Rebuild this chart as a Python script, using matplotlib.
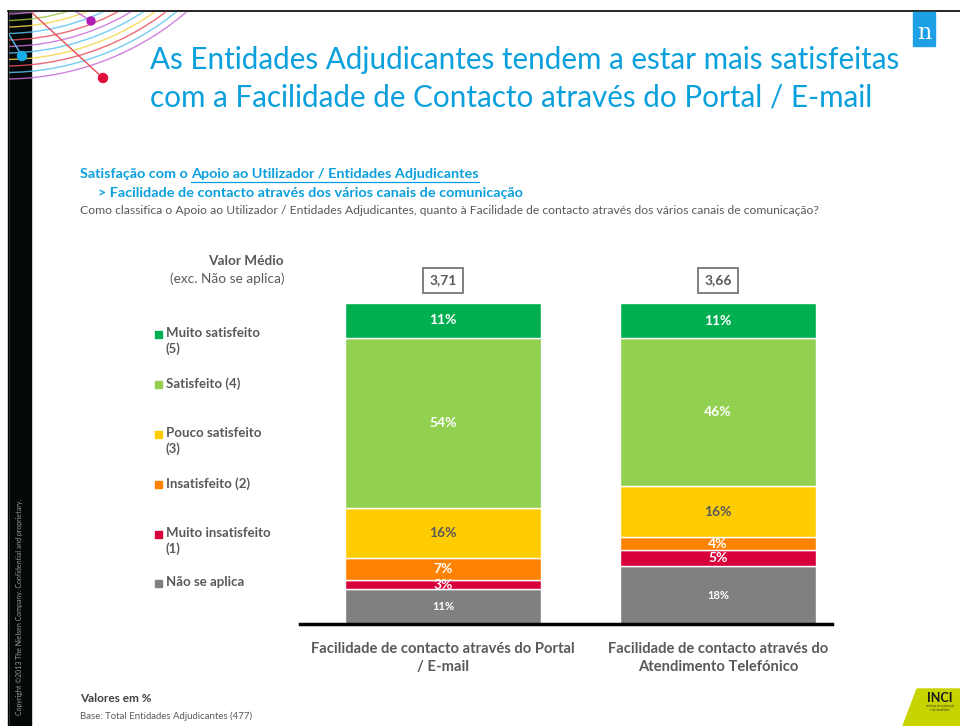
import numpy as np
import matplotlib
matplotlib.use("Agg")
import matplotlib.pyplot as plt
from matplotlib.patches import Rectangle, Polygon, Arc, Circle

plt.rcParams['font.family'] = ['Lato', 'DejaVu Sans']

# data
categories = ["Facilidade de contacto através do Portal\n/ E-mail",
              "Facilidade de contacto através do\nAtendimento Telefónico"]
levels = ["Não se aplica", "Muito insatisfeito (1)", "Insatisfeito (2)",
          "Pouco satisfeito (3)", "Satisfeito (4)", "Muito satisfeito (5)"]
portal = [11, 3, 7, 16, 54, 11]
telefone = [18, 5, 4, 16, 46, 11]
means = ["3,71", "3,66"]
legend_labels = ["Muito satisfeito\n(5)", "Satisfeito (4)", "Pouco satisfeito\n(3)",
                 "Insatisfeito (2)", "Muito insatisfeito\n(1)", "Não se aplica"]

colors = ["#808080", "#D8003A", "#FF8200", "#FFCC00", "#92D050", "#00B050"]
label_colors = ["white", "white", "white", "#595959", "white", "white"]
legend_colors = colors[::-1]

W, H = 960, 726
fig = plt.figure(figsize=(9.6, 7.26), dpi=100)

# decoration layer in pixel coordinates
deco = fig.add_axes([0, 0, 1, 1])
deco.set_xlim(0, W)
deco.set_ylim(H, 0)
deco.axis("off")
deco.add_patch(Rectangle((8, 11), 23, H - 11, color="#050808", zorder=1))
deco.plot([8, W], [11, 11], color="black", lw=1.2, zorder=3)
deco.plot([8, 8], [11, H], color="black", lw=1.0, zorder=3)
arc_cols = ["#C86DD7", "#59C3F0", "#E8505B", "#F5D547", "#59C3F0", "#C86DD7",
            "#E8505B", "#59C3F0", "#F5D547", "#9BC53D", "#C86DD7"]
for i, c in enumerate(arc_cols):
    r = 279 - i * 6.5
    deco.add_patch(Arc((5, -200), 2 * r, 2 * r, theta1=20, theta2=160,
                       color=c, lw=1.0, alpha=0.85, zorder=2))
deco.add_patch(Rectangle((0, 0), W, 11, color="white", zorder=2.5))
deco.add_patch(Rectangle((0, 0), 8, H, color="white", zorder=2.5))
deco.plot([30, 103], [11, 78], color="#E8505B", lw=1, zorder=2)
deco.plot([75, 91], [11, 21], color="#C86DD7", lw=1, zorder=2)
deco.plot([8, 22], [33, 56], color="#59C3F0", lw=1, zorder=2)
deco.add_patch(Circle((91, 21), 4, color="#B01CB5", zorder=4))
deco.add_patch(Circle((22, 56), 4.5, color="#13AEEA", zorder=4))
deco.add_patch(Circle((103, 78), 4.5, color="#E0103A", zorder=4))
deco.text(20, 607, "Copyright ©2013 The Nielsen Company. Confidential and proprietary.",
          rotation=90, ha="center", va="center", fontsize=5, color="#9A9A9A", zorder=4)

# nielsen logo
deco.add_patch(Rectangle((913, 12), 22, 34, color="#1EA0E6", zorder=4))
deco.text(924, 33, "n", ha="center", va="center", fontsize=16, color="white",
          family="DejaVu Serif", zorder=5)

# inci logo
deco.add_patch(Polygon([[903, 726], [917, 689], [960, 689], [960, 726]],
                       closed=True, color="#C8D400", zorder=4))
deco.text(940, 698, "INCI", ha="center", va="center", fontsize=9, fontweight="bold",
          color="#1A1A1A", zorder=5)
deco.text(940, 708, "instituto da construção\ne do imobiliário", ha="center", va="center",
          fontsize=2, color="#333333", zorder=5)

# title
title_col = "#0A9FDD"
deco.text(150, 60, "As Entidades Adjudicantes tendem a estar mais satisfeitas",
          fontsize=21.3, color=title_col, va="center", ha="left")
deco.text(150, 97, "com a Facilidade de Contacto através do Portal / E-mail",
          fontsize=21.3, color=title_col, va="center", ha="left")

# subtitle
t1 = deco.text(80, 174, "Satisfação com o ", fontsize=10.4, fontweight="bold",
               color=title_col, va="center", ha="left")
fig.canvas.draw()
bb = t1.get_window_extent()
x2 = bb.x1 * W / fig.bbox.width
t2 = deco.text(x2, 174, "Apoio ao Utilizador / Entidades Adjudicantes", fontsize=10.4,
               fontweight="bold", color=title_col, va="center", ha="left")
fig.canvas.draw()
bb2 = t2.get_window_extent()
deco.plot([x2, bb2.x1 * W / fig.bbox.width], [182, 182], color=title_col, lw=0.9)
deco.text(98, 193, "> Facilidade de contacto através dos vários canais de comunicação",
          fontsize=10.4, fontweight="bold", color=title_col, va="center", ha="left")
deco.text(80, 211, "Como classifica o Apoio ao Utilizador / Entidades Adjudicantes, quanto à "
          "Facilidade de contacto através dos vários canais de comunicação?",
          fontsize=8.7, color="#595959", va="center", ha="left")

# valor medio header
deco.text(246, 261, "Valor Médio", fontsize=9.8, fontweight="bold", color="#595959",
          ha="center", va="center")
deco.text(227, 279, "(exc. Não se aplica)", fontsize=9.8, color="#595959",
          ha="center", va="center")

# legend
leg_y = [334, 384, 434, 484, 534, 583]
for y, lab, c in zip(leg_y, legend_labels, legend_colors):
    deco.add_patch(Rectangle((155, y - 3.5), 7, 7, color=c))
    deco.text(166, y - 7, lab, fontsize=9.5, fontweight="bold", color="#595959",
              ha="left", va="top", linespacing=1.3)

# footer
deco.text(80, 699, "Valores em %", fontsize=8.5, fontweight="bold", color="#404040",
          ha="left", va="center")
deco.text(80, 716, "Base: Total Entidades Adjudicantes (477)", fontsize=6.9,
          color="#595959", ha="left", va="center")

# chart
ax = fig.add_axes([300 / W, 1 - 624 / H, 532 / W, 321 / H])
data = np.array([portal, telefone], dtype=float)
shares = data / data.sum(axis=1, keepdims=True) * 100
x = np.arange(len(categories))
bottom = np.zeros(len(categories))
for j in range(len(levels)):
    ax.bar(x, shares[:, j], bottom=bottom, width=0.713, color=colors[j],
           edgecolor="white", linewidth=1.0, zorder=2)
    for i in range(len(categories)):
        size = 8 if j == 0 else 10
        ax.text(x[i], bottom[i] + shares[i, j] / 2, f"{data[i, j]:.0f}%", ha="center",
                va="center", fontsize=size, fontweight="bold", color=label_colors[j], zorder=3)
    bottom += shares[:, j]

ax.set_xlim(-0.52, 1.415)
ax.set_ylim(0, 100)
ax.axis("off")
ax.plot([-0.52, 1.415], [0, 0], color="black", lw=2.5, clip_on=False, zorder=4)

for i, m in enumerate(means):
    ax.text(x[i], 107, m, ha="center", va="center", fontsize=10, fontweight="bold",
            color="#595959",
            bbox=dict(boxstyle="square,pad=0.45", fc="white", ec="#7F7F7F", lw=1.4))
    ax.text(x[i], -5.5, categories[i], ha="center", va="top", fontsize=10.6,
            fontweight="bold", color="#595959", linespacing=1.35)

fig.savefig("out.png", dpi=100)
